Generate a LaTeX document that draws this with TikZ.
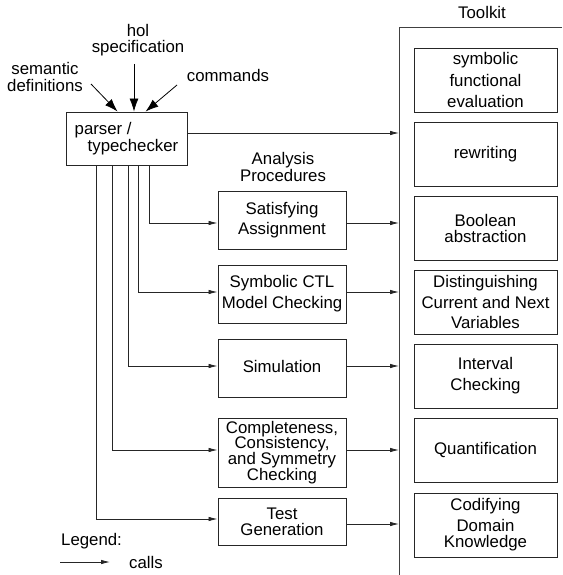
\documentclass[tikz,border=0pt]{standalone}
\usepackage{fontspec}
\setmainfont{Liberation Sans}
\usetikzlibrary{arrows.meta,calc}
\begin{document}
\begin{tikzpicture}[x=1pt,y=-1pt,
  fs/.style={font=\fontsize{16.8}{#1}\selectfont},
  box/.style={draw=black!85, line width=0.9pt, inner sep=0pt, align=center},
  ana/.style={box, minimum width=128pt, minimum height=58pt},
  tool/.style={box, minimum width=143pt, minimum height=64pt},
  txt/.style={inner sep=0pt, align=center},
  call/.style={-{Latex[length=9pt,width=4.5pt]}, line width=0.8pt, draw=black!85},
  inp/.style={-{Latex[length=13pt,width=9pt]}, line width=0.8pt}
]
\useasboundingbox (0,0) rectangle (562,575);

% parser
\node[box, minimum width=121pt, minimum height=53pt, fs=17, align=left] (parser) at (126.5,138.5) {parser /\\\hspace*{13pt}typechecker};

% inputs
\node[txt, fs=16] (hol) at (138,40) {hol\\specification};
\node[txt, fs=16.5] (sem) at (45,77) {semantic\\definitions};
\node[txt, fs=16] (cmd) at (228,75) {commands};
\coordinate (hol-s) at (134,64);
\coordinate (sem-s) at (91,84);
\coordinate (cmd-s) at (177,85);
\draw[inp] (hol-s) -- (parser.north -| hol-s);
\draw[inp] (sem-s) -- ($(parser.north west)+(52,0)$);
\draw[inp] (cmd-s) -- ($(parser.north west)+(80,0)$);

% toolkit bracket
\coordinate (tktop) at (399,27);
\coordinate (tkend) at (562,27);
\coordinate (tkbot) at (399,575);
\draw[line width=0.9pt, draw=black!75] (tkend) -- (tktop) -- (tkbot);
\node[txt, fs=16] (tklabel) at (482,12) {Toolkit};

% toolkit boxes
\node[tool, fs=21.7] (t1) at (485.5,80) {symbolic\\functional\\evaluation};
\node[tool, fs=16] (t2) at (485.5,154) {rewriting};
\node[tool, fs=16] (t3) at (485.5,228.5) {Boolean\\abstraction};
\node[tool, fs=20.5] (t4) at (485.5,302) {Distinguishing\\Current and Next\\Variables};
\node[tool, fs=20.7] (t5) at (485.5,376) {Interval\\Checking};
\node[tool, fs=16] (t6) at (485.5,450) {\raisebox{4pt}{Quantification}};
\node[tool, fs=16] (t7) at (485.5,525) {\raisebox{3pt}{\parbox{140pt}{\centering Codifying\\[5pt]Domain\\Knowledge}}};

% analysis procedures
\node[txt, fs=15.5] (anlabel) at (283,167) {Analysis\\Procedures};
\node[ana, fs=20] (sat) at (282,220) {Satisfying\\Assignment};
\node[ana, fs=21] (ctl) at (282,294) {Symbolic CTL\\Model Checking};
\node[ana, fs=16] (sim) at (282,368) {\raisebox{3pt}{Simulation}};
\node[ana, fs=15.8, minimum height=69pt] (comp) at (282,452.5) {Completeness,\\Consistency,\\and Symmetry\\Checking};
\node[ana, fs=16, minimum height=47pt] (test) at (282,521.5) {Test\\Generation};

% feed lines from parser
\coordinate (f1) at ($(parser.south west)+(31,0)$);
\coordinate (f2) at ($(parser.south west)+(47,0)$);
\coordinate (f3) at ($(parser.south west)+(63,0)$);
\coordinate (f4) at ($(parser.south west)+(73,0)$);
\coordinate (f5) at ($(parser.south west)+(84,0)$);
\draw[call] (f5) |- ([yshift=-3pt]sat.west);
\draw[call] (f4) |- ([yshift=2pt]ctl.west);
\draw[call] (f3) |- ([yshift=2pt]sim.west);
\draw[call] (f2) |- ([yshift=2.5pt]comp.west);
\draw[call] (f1) |- ([yshift=2.5pt]test.west);

% calls to toolkit
\draw[call] ([yshift=5.5pt]parser.east) -- ([yshift=5.5pt]parser.east -| tktop);
\draw[call] ([yshift=-3pt]sat.east) -- ([yshift=-3pt]sat.east -| tktop);
\draw[call] ([yshift=2pt]ctl.east) -- ([yshift=2pt]ctl.east -| tktop);
\draw[call] ([yshift=2pt]sim.east) -- ([yshift=2pt]sim.east -| tktop);
\draw[call] ([yshift=2.5pt]comp.east) -- ([yshift=2.5pt]comp.east -| tktop);
\draw[call] ([yshift=-2.5pt]test.east) -- ([yshift=-2.5pt]test.east -| tktop);

% legend
\node[txt, fs=16, anchor=west] (legend) at (61,541) {Legend:};
\coordinate (lg-a) at (60,562);
\coordinate (lg-b) at (110,562);
\node[txt, fs=16, anchor=west] (calls) at (129,562) {calls};
\draw[call] (lg-a) -- (lg-b);
\end{tikzpicture}
\end{document}
